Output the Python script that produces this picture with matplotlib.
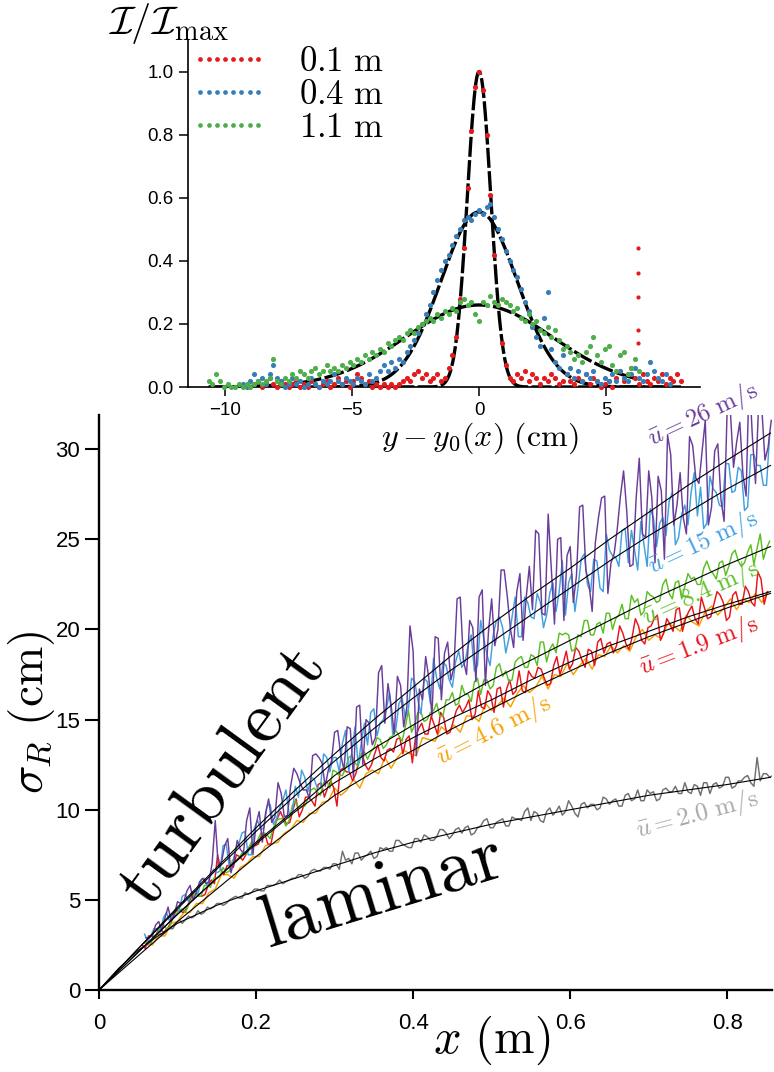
import numpy as np
import matplotlib
matplotlib.use("Agg")
import matplotlib.pyplot as plt
from matplotlib.lines import Line2D

plt.rcParams['mathtext.fontset'] = 'cm'
plt.rcParams['font.family'] = ['Liberation Sans', 'DejaVu Sans']

# ---------------- main panel: spreading width sigma_R versus x ----------------
# smooth model curves, sampled on a common x grid (m)
fit_x = [0, 0.025, 0.05, 0.075, 0.1, 0.15, 0.2, 0.25, 0.3, 0.35, 0.4, 0.45,
         0.5, 0.55, 0.6, 0.65, 0.7, 0.75, 0.8, 0.855]
fit_26 = [0, 1.15, 2.3, 3.45, 4.6, 6.8, 9.0, 11.1, 13.1, 15.0, 16.8, 18.6,
          20.3, 21.9, 23.4, 25.0, 26.5, 28.0, 29.4, 30.9]
fit_15 = [0, 1.15, 2.3, 3.4, 4.5, 6.7, 8.8, 10.8, 12.7, 14.5, 16.2, 17.8,
          19.3, 20.8, 22.3, 23.8, 25.2, 26.5, 27.8, 29.1]
fit_84 = [0, 1.05, 2.1, 3.15, 4.2, 6.2, 8.2, 10.0, 11.9, 13.4, 14.7, 16.0,
          17.2, 18.3, 19.4, 20.5, 21.6, 22.6, 23.6, 24.6]
fit_19 = [0, 1.05, 2.1, 3.15, 4.2, 6.2, 8.1, 9.9, 11.5, 12.8, 14.0, 15.1,
          16.1, 17.2, 18.2, 19.1, 19.9, 20.7, 21.4, 22.1]
fit_46 = [0, 0.95, 1.9, 2.85, 3.8, 5.6, 7.4, 9.1, 10.8, 12.1, 13.3, 14.5,
          15.6, 16.7, 17.7, 18.7, 19.6, 20.4, 21.2, 22.0]
fit_20 = [0, 1.2, 2.2, 3.0, 3.7, 4.7, 5.5, 6.2, 6.9, 7.6, 8.2, 8.7,
          9.2, 9.6, 10.0, 10.4, 10.8, 11.1, 11.4, 11.8]

# measured sigma_R (cm), sampled every 8 mm starting at the given x (m);
# the *_mid lists hold the in-between samples (offset 4 mm)
sample_step = 0.008
sig_26_x0 = 0.060
sig_26 = [2.9, 3.0, 3.8, 4.0, 3.8, 4.9, 4.9, 5.8, 5.4, 6.2,
          6.0, 9.4, 7.1, 8.4, 7.2, 7.8, 9.4, 7.5, 9.9, 9.8,
          9.3, 11.5, 9.6, 11.3, 12.0, 11.1, 10.6, 13.1, 12.6, 12.2,
          14.3, 13.0, 14.6, 11.8, 15.8, 15.0, 13.6, 17.6, 14.8, 15.8,
          17.4, 14.6, 20.2, 13.0, 16.1, 17.3, 19.6, 16.1, 19.3, 17.9,
          21.8, 17.5, 20.1, 21.8, 16.9, 21.7, 20.0, 23.3, 20.0, 22.1,
          19.4, 23.5, 25.5, 20.9, 26.4, 20.3, 25.1, 24.1, 21.5, 26.8,
          23.3, 21.0, 26.2, 27.4, 23.7, 25.6, 28.8, 23.5, 27.3, 25.3,
          28.8, 23.7, 27.7, 30.8, 25.8, 28.7, 25.3, 30.2, 28.1, 31.6,
          26.8, 30.3, 26.0, 32.1, 30.4, 28.6, 34.2, 28.1, 32.3, 30.1]
sig_26_mid = [2.9, 3.6, 3.3, 4.6, 4.2, 4.8, 5.5, 5.0, 6.0, 5.9,
              7.0, 6.8, 8.0, 6.5, 8.3, 7.6, 10.1, 9.2, 8.2, 10.6,
              9.6, 10.9, 9.7, 12.3, 11.5, 11.1, 13.0, 12.9, 11.3, 12.7,
              14.4, 12.2, 14.5, 15.7, 12.5, 14.8, 14.0, 18.0, 17.0, 14.2,
              16.9, 15.7, 18.8, 16.7, 18.5, 15.2, 19.5, 18.7, 17.2, 21.7,
              18.3, 20.5, 17.1, 22.2, 19.9, 19.1, 23.3, 21.8, 19.0, 23.1,
              21.8, 21.1, 25.3, 20.8, 23.3, 25.0, 20.5, 24.6, 23.0, 26.9,
              22.5, 24.8, 27.3, 22.0, 24.2, 27.4, 26.6, 23.6, 29.5, 25.1,
              27.3, 28.5, 23.9, 29.7, 26.9, 26.2, 30.7, 28.4, 29.9, 25.8,
              29.9, 27.2, 32.4, 29.0, 31.5, 27.4, 30.7, 32.5, 29.4, 31.6]
sig_15_x0 = 0.058
sig_15 = [3.1, 3.0, 3.4, 4.0, 3.8, 4.5, 5.2, 4.9, 5.5, 6.1,
          5.8, 6.7, 6.6, 8.1, 7.0, 8.1, 8.8, 7.5, 9.4, 9.0,
          10.3, 9.5, 10.5, 9.8, 11.3, 12.2, 11.0, 11.7, 11.2, 12.9,
          12.9, 12.1, 14.4, 13.2, 12.5, 14.8, 15.4, 14.1, 15.0, 16.5,
          14.5, 16.2, 15.6, 17.1, 15.3, 17.1, 18.4, 16.7, 18.0, 16.8,
          18.8, 18.2, 19.7, 18.0, 19.5, 18.0, 20.5, 20.1, 19.5, 21.8,
          19.6, 21.5, 20.6, 21.5, 20.8, 22.6, 22.1, 20.8, 23.1, 22.3,
          24.2, 22.1, 23.8, 22.1, 24.4, 24.0, 25.5, 23.7, 24.4, 26.0,
          23.5, 26.2, 25.9, 25.2, 27.6, 25.1, 26.9, 27.6, 26.3, 25.6,
          28.5, 27.6, 26.8, 29.2, 27.7, 28.8, 26.8, 29.7, 29.1, 28.0]
sig_15_mid = [2.7, 3.4, 3.2, 4.3, 4.2, 4.4, 5.3, 5.4, 5.3, 6.2,
              6.4, 6.5, 8.0, 6.8, 7.8, 8.7, 7.5, 9.0, 8.9, 10.2,
              9.2, 10.1, 11.1, 9.8, 10.7, 11.8, 11.8, 11.2, 13.1, 12.1,
              12.9, 13.7, 12.1, 14.6, 13.7, 13.6, 15.6, 14.8, 15.6, 14.2,
              15.9, 15.1, 17.3, 16.1, 17.3, 15.9, 17.3, 18.2, 17.2, 18.2,
              17.9, 19.1, 17.7, 20.5, 18.6, 19.7, 20.7, 18.7, 20.7, 19.6,
              21.8, 20.7, 22.0, 20.1, 22.0, 21.0, 23.8, 22.6, 21.0, 23.9,
              22.5, 23.9, 22.3, 25.3, 24.1, 23.5, 25.6, 25.5, 23.3, 24.7,
              26.7, 24.6, 26.2, 27.1, 24.7, 26.4, 25.8, 28.7, 27.9, 25.9,
              27.8, 26.9, 29.2, 27.6, 29.0, 26.6, 29.7, 29.1, 28.0, 30.8]
sig_84_x0 = 0.058
sig_84 = [2.6, 2.7, 3.1, 3.6, 3.5, 4.2, 4.5, 4.7, 5.4, 5.2,
          5.8, 6.2, 6.3, 6.5, 7.2, 7.3, 7.5, 8.2, 8.3, 8.7,
          8.4, 9.4, 9.5, 9.4, 10.5, 10.2, 10.6, 11.2, 10.8, 11.6,
          12.2, 11.9, 12.3, 13.0, 12.4, 13.2, 13.2, 14.0, 13.4, 14.0,
          14.4, 13.8, 15.5, 14.7, 15.4, 15.0, 15.5, 15.2, 16.1, 16.5,
          15.9, 16.4, 16.0, 17.3, 17.2, 16.7, 17.9, 17.4, 17.1, 18.2,
          18.5, 17.9, 18.5, 19.3, 18.2, 19.2, 19.8, 19.8, 18.8, 19.7,
          20.5, 19.7, 20.3, 19.8, 20.9, 20.6, 21.4, 20.6, 21.5, 20.8,
          22.1, 21.8, 21.6, 22.8, 21.7, 22.7, 22.4, 22.8, 22.5, 23.4,
          23.3, 22.8, 23.8, 23.5, 24.4, 23.5, 24.3, 23.6, 25.3, 24.5]
sig_84_mid = [2.6, 2.9, 3.5, 3.4, 4.0, 4.4, 4.3, 5.0, 5.2, 5.8,
              5.7, 6.2, 6.8, 6.6, 7.1, 7.6, 7.8, 8.0, 8.7, 8.6,
              9.0, 9.5, 9.1, 10.2, 10.1, 10.2, 11.1, 11.0, 11.5, 11.2,
              12.1, 11.9, 12.9, 12.6, 13.1, 12.8, 13.4, 13.9, 13.6, 14.1,
              14.1, 14.6, 14.3, 15.4, 14.9, 15.4, 15.9, 15.2, 16.1, 15.8,
              16.9, 16.4, 17.1, 16.4, 17.2, 16.9, 18.1, 17.7, 17.2, 18.4,
              17.9, 18.6, 18.0, 19.3, 18.9, 18.7, 19.7, 19.7, 18.9, 19.6,
              20.5, 19.7, 20.4, 20.9, 20.0, 20.8, 20.6, 21.9, 21.7, 21.0,
              21.9, 21.5, 22.5, 22.0, 22.6, 21.7, 23.1, 22.9, 22.5, 23.8,
              23.1, 23.7, 23.0, 24.2, 23.8, 23.7, 24.7, 24.5, 23.9, 24.9]
sig_19_x0 = 0.055
sig_19 = [2.5, 3.0, 2.9, 3.3, 3.4, 4.2, 4.4, 4.5, 5.3, 5.2,
          5.3, 6.1, 7.5, 6.4, 6.9, 7.5, 7.2, 7.9, 8.0, 8.6,
          8.1, 9.0, 9.9, 9.2, 10.0, 9.6, 10.7, 10.5, 11.4, 10.7,
          11.6, 10.2, 12.3, 12.1, 12.0, 13.1, 12.2, 13.1, 12.9, 13.3,
          13.2, 14.0, 13.9, 12.6, 14.5, 14.2, 15.2, 14.2, 15.1, 14.3,
          15.5, 15.4, 16.1, 15.3, 15.7, 16.6, 15.4, 16.8, 16.7, 16.4,
          17.7, 16.5, 17.4, 17.9, 17.3, 17.0, 18.5, 18.1, 17.8, 19.0,
          18.3, 18.9, 18.0, 19.5, 19.2, 18.7, 20.2, 19.2, 19.6, 20.2,
          19.2, 20.2, 20.8, 19.8, 20.3, 21.1, 19.9, 21.0, 20.6, 21.8,
          20.6, 21.4, 21.9, 20.5, 21.9, 21.4, 22.4, 21.5, 23.2, 21.4]
sig_19_mid = [2.3, 3.0, 3.3, 3.2, 3.7, 4.4, 4.3, 4.9, 5.4, 5.2,
              5.8, 5.9, 6.7, 6.9, 6.8, 7.4, 7.5, 8.2, 8.1, 8.7,
              8.1, 9.5, 9.5, 9.3, 10.6, 10.0, 10.7, 10.2, 11.5, 11.2,
              11.2, 12.2, 12.1, 11.6, 12.7, 12.5, 12.5, 13.6, 12.7, 13.4,
              13.9, 13.1, 14.1, 14.0, 14.8, 14.2, 14.7, 15.4, 14.2, 14.9,
              15.8, 15.7, 15.0, 16.6, 15.6, 16.3, 16.7, 15.7, 17.2, 16.6,
              16.6, 17.7, 17.3, 17.8, 16.9, 18.0, 17.5, 18.8, 18.1, 18.8,
              17.9, 18.8, 19.3, 18.7, 19.3, 19.1, 19.8, 18.9, 20.6, 19.4,
              20.1, 20.6, 19.4, 20.6, 19.9, 21.2, 20.6, 21.3, 20.3, 21.2,
              20.7, 22.1, 21.5, 20.7, 22.1, 21.4, 22.1, 21.3, 22.8, 22.1]
sig_46_x0 = 0.060
sig_46 = [2.6, 2.5, 3.0, 3.0, 3.7, 3.8, 4.3, 4.3, 4.8, 4.8,
          5.4, 5.6, 6.4, 6.4, 6.2, 6.8, 7.0, 7.4, 7.4, 8.0,
          8.1, 8.2, 8.7, 8.9, 9.4, 9.3, 9.8, 9.8, 10.4, 10.5,
          11.2, 10.8, 11.1, 11.7, 11.2, 12.0, 12.2, 12.0, 12.9, 12.3,
          12.9, 13.3, 13.1, 13.0, 14.0, 13.9, 13.8, 14.6, 14.3, 14.7,
          14.3, 15.2, 15.2, 14.9, 15.9, 15.5, 15.8, 16.2, 15.7, 16.4,
          16.9, 16.5, 16.8, 17.4, 16.7, 17.5, 17.4, 18.1, 17.5, 18.0,
          18.4, 17.8, 18.6, 18.5, 19.1, 18.7, 19.1, 18.8, 19.6, 20.0,
          19.4, 19.7, 19.5, 20.3, 20.2, 19.9, 20.8, 20.4, 20.2, 21.0,
          21.3, 20.8, 21.2, 21.7, 21.1, 21.7, 21.5, 22.0, 21.5, 22.1]
sig_20_x0 = 0.062
sig_20 = [2.5, 3.0, 3.1, 3.4, 3.4, 3.9, 3.9, 4.0, 4.4, 4.3,
          4.5, 4.8, 4.7, 5.0, 5.2, 5.1, 5.3, 5.6, 5.5, 5.8,
          5.8, 6.1, 6.0, 6.2, 6.4, 6.2, 6.6, 6.6, 6.8, 6.7,
          7.0, 7.7, 7.3, 7.6, 7.2, 7.5, 7.3, 7.9, 7.9, 7.7,
          8.3, 8.0, 7.9, 8.4, 8.6, 8.3, 8.5, 8.9, 8.4, 8.9,
          8.7, 9.1, 8.7, 9.1, 9.5, 9.0, 9.4, 9.1, 9.6, 9.5,
          9.9, 9.4, 9.8, 9.3, 10.1, 9.9, 9.7, 10.5, 9.8, 10.3,
          10.1, 10.3, 10.1, 10.6, 10.5, 10.2, 10.8, 10.5, 11.1, 10.5,
          10.9, 10.5, 11.1, 11.0, 11.3, 10.9, 11.0, 11.4, 10.8, 11.5,
          11.4, 11.2, 11.8, 11.2, 11.6, 11.8, 11.5, 12.9, 12.0, 11.8]
sig_20_mid = [2.6, 3.1, 3.1, 3.4, 3.7, 3.7, 4.1, 4.1, 4.2, 4.6,
              4.6, 4.8, 4.8, 5.1, 5.1, 5.4, 5.4, 5.6, 5.5, 5.8,
              5.9, 5.9, 6.1, 6.2, 6.4, 6.3, 6.7, 6.6, 6.8, 7.0,
              6.7, 7.2, 7.0, 7.6, 7.4, 7.7, 7.4, 7.8, 7.7, 8.3,
              8.1, 7.9, 8.4, 8.2, 8.5, 8.3, 8.9, 8.7, 8.6, 9.0,
              9.0, 8.6, 9.0, 9.4, 9.0, 9.3, 9.5, 9.1, 9.5, 9.4,
              10.1, 9.9, 9.4, 9.9, 9.7, 10.2, 9.9, 10.2, 9.6, 10.4,
              10.3, 10.0, 10.7, 10.3, 10.6, 10.2, 10.9, 10.6, 10.5, 11.1,
              11.0, 10.6, 11.2, 11.0, 10.9, 11.5, 10.9, 11.3, 11.5, 10.9,
              11.5, 11.3, 11.8, 11.3, 11.6, 11.9, 11.3, 11.6, 12.0, 11.9]

# ---------------- inset: transverse intensity profiles ----------------
prof_step = 0.15
prof_01_y0 = -8.85
prof_01 = [0.01, 0.02, 0.00, 0.01, 0.03, 0.01, 0.00, 0.02, 0.01, 0.00,
           0.01, 0.02, 0.00, 0.01, 0.00, 0.02, 0.01, 0.00, 0.01, 0.02,
           0.00, 0.01, 0.03, 0.01, 0.02, 0.00, 0.02, 0.04, 0.03, 0.01,
           0.02, 0.00, 0.01, 0.00, 0.01, 0.00, 0.01, 0.00, 0.01, 0.02,
           0.03, 0.02, 0.04, 0.05, 0.03, 0.04, 0.02, 0.03, 0.04, 0.02,
           0.03, 0.06, 0.10, 0.16, 0.28, 0.44, 0.63, 0.81, 0.95, 1.00,
           0.94, 0.80, 0.61, 0.42, 0.26, 0.14, 0.07, 0.03, 0.02, 0.04,
           0.03, 0.05, 0.02, 0.04, 0.03, 0.01, 0.03, 0.02, 0.04, 0.03,
           0.01, 0.02, 0.04, 0.02, 0.01, 0.03, 0.02, 0.04, 0.01, 0.03,
           0.02, 0.00, 0.01, 0.02, 0.00, 0.03, 0.05, 0.02, 0.04, 0.06,
           0.03, 0.01, 0.04, 0.02, 0.01, 0.03, 0.02, 0.04, 0.01, 0.03,
           0.02, 0.04, 0.02]
prof_01_col_y = 6.25
prof_01_col = [0.44, 0.36, 0.285, 0.18, 0.14]
prof_04_y0 = -9.30
prof_04 = [0.01, 0.00, 0.02, 0.04, 0.02, 0.03, 0.01, 0.04, 0.07, 0.03,
           0.02, 0.00, 0.01, 0.03, 0.01, 0.02, 0.00, 0.01, 0.03, 0.01,
           0.00, 0.02, 0.01, 0.02, 0.04, 0.02, 0.01, 0.03, 0.02, 0.01,
           0.03, 0.02, 0.01, 0.04, 0.02, 0.03, 0.05, 0.07, 0.05, 0.08,
           0.06, 0.09, 0.08, 0.11, 0.13, 0.15, 0.17, 0.20, 0.23, 0.26,
           0.30, 0.34, 0.37, 0.40, 0.42, 0.45, 0.48, 0.50, 0.53, 0.54,
           0.53, 0.55, 0.56, 0.55, 0.57, 0.58, 0.54, 0.50, 0.47, 0.43,
           0.40, 0.37, 0.35, 0.31, 0.27, 0.24, 0.19, 0.16, 0.13, 0.22,
           0.30, 0.12, 0.08, 0.06, 0.10, 0.04, 0.06, 0.03, 0.05, 0.02,
           0.04, 0.03, 0.05, 0.02, 0.01, 0.03, 0.02, 0.04, 0.02, 0.05,
           0.03, 0.02, 0.04, 0.06, 0.03, 0.02, 0.04, 0.08, 0.05, 0.03,
           0.02, 0.04, 0.01]
prof_11_y0 = -10.65
prof_11 = [0.02, 0.01, 0.04, 0.02, 0.00, 0.01, 0.00, 0.00, 0.01, 0.00,
           0.01, 0.00, 0.01, 0.02, 0.01, 0.02, 0.03, 0.09, 0.02, 0.01,
           0.03, 0.02, 0.04, 0.03, 0.05, 0.04, 0.03, 0.05, 0.06, 0.04,
           0.05, 0.07, 0.05, 0.06, 0.05, 0.07, 0.06, 0.08, 0.07, 0.09,
           0.08, 0.10, 0.09, 0.11, 0.10, 0.12, 0.11, 0.14, 0.13, 0.15,
           0.16, 0.15, 0.17, 0.18, 0.17, 0.19, 0.20, 0.21, 0.22, 0.21,
           0.23, 0.22, 0.24, 0.23, 0.25, 0.24, 0.27, 0.28, 0.26, 0.27,
           0.23, 0.21, 0.27, 0.26, 0.29, 0.27, 0.26, 0.28, 0.27, 0.26,
           0.24, 0.25, 0.22, 0.21, 0.23, 0.20, 0.21, 0.18, 0.17, 0.19,
           0.16, 0.18, 0.15, 0.12, 0.13, 0.11, 0.09, 0.10, 0.08, 0.11,
           0.13, 0.16, 0.10, 0.08, 0.12, 0.13, 0.07, 0.05, 0.10, 0.11,
           0.04, 0.06, 0.09, 0.05]
# Gaussian fit parameters: amplitude, width (cm)
gauss_01 = (1.00, 0.46)
gauss_04 = (0.555, 1.50)
gauss_11 = (0.26, 2.90)
profile_labels = [r'$0.1\ \mathrm{m}$', r'$0.4\ \mathrm{m}$', r'$1.1\ \mathrm{m}$']

# ---------------- drawing ----------------
C_26, C_15, C_84 = '#6a3d9a', '#40a0e0', '#5cbf24'
C_19, C_46, C_20 = '#e8131b', '#f7a100', '#707070'


def sample_positions(x0, vals):
    return x0 + sample_step * np.arange(len(vals))


def merged(x0, vals, mids):
    xs = np.column_stack([sample_positions(x0, vals),
                          sample_positions(x0 + sample_step / 2, mids)]).ravel()
    ys = np.column_stack([vals, mids]).ravel()
    return xs, ys


fig = plt.figure(figsize=(7.74, 10.72), dpi=100)
ax = fig.add_axes([99 / 774, 1 - 990 / 1072, 673 / 774, 575 / 1072])

series = [(*merged(sig_20_x0, sig_20, sig_20_mid), C_20),
          (sample_positions(sig_46_x0, sig_46), sig_46, C_46),
          (*merged(sig_19_x0, sig_19, sig_19_mid), C_19),
          (*merged(sig_84_x0, sig_84, sig_84_mid), C_84),
          (*merged(sig_15_x0, sig_15, sig_15_mid), C_15),
          (*merged(sig_26_x0, sig_26, sig_26_mid), C_26)]
for xs, ys, col in series:
    ax.plot(xs, ys, color=col, lw=1.05, zorder=2)
for fv in [fit_20, fit_46, fit_19, fit_84, fit_15, fit_26]:
    ax.plot(fit_x, fv, color='black', lw=0.8, zorder=3)

ax.set_xlim(0, 0.857)
ax.set_ylim(0, 31.9)
for s in ['top', 'right']:
    ax.spines[s].set_visible(False)
for s in ['left', 'bottom']:
    ax.spines[s].set_linewidth(1.7)
ax.set_xticks([0, 0.2, 0.4, 0.6, 0.8])
ax.set_xticklabels(['0', '0.2', '0.4', '0.6', '0.8'])
ax.set_yticks([0, 5, 10, 15, 20, 25, 30])
ax.tick_params(axis='y', length=10, width=1.5, pad=3.5, labelsize=16)
ax.tick_params(axis='x', length=6.5, width=1.5, pad=10, labelsize=16)

ax.text(0.584, -0.087, r'$x\ (\mathrm{m})$', transform=ax.transAxes,
        fontsize=35, ha='center', va='center')
ax.text(-0.1, 0.482, r'$\sigma_R\ (\mathrm{cm})$', transform=ax.transAxes,
        fontsize=34, ha='center', va='center', rotation=90)

ax.text(0.157, 11.8, r'$\mathrm{turbulent}$', fontsize=53, rotation=54,
        ha='center', va='center', rotation_mode='anchor', zorder=5)
ax.text(0.36, 5.4, r'$\mathrm{laminar}$', fontsize=54, rotation=17,
        ha='center', va='center', rotation_mode='anchor', zorder=5)

speed_labels = [
    (0.769, 31.9, 25, r'$\bar{u} = 26\ \mathrm{m/s}$', C_26),
    (0.769, 24.8, 25, r'$\bar{u} = 15\ \mathrm{m/s}$', C_15),
    (0.766, 22.0, 24, r'$\bar{u} = 8.4\ \mathrm{m/s}$', C_84),
    (0.763, 19.1, 21, r'$\bar{u} = 1.9\ \mathrm{m/s}$', C_19),
    (0.502, 14.4, 27, r'$\bar{u} = 4.6\ \mathrm{m/s}$', C_46),
    (0.762, 9.7, 15, r'$\bar{u} = 2.0\ \mathrm{m/s}$', '#a8a8a8'),
]
for xl, yl, rot, txt, col in speed_labels:
    ax.text(xl, yl, txt, fontsize=18, color=col, rotation=rot,
            ha='center', va='center', rotation_mode='anchor',
            clip_on=False, zorder=6)

# inset
axi = fig.add_axes([188 / 774, 1 - 387 / 1072, 512 / 774, 347 / 1072])
axi.patch.set_alpha(0)
P_RED, P_BLUE, P_GREEN = '#e41a1c', '#377eb8', '#4daf4a'
profiles = [(prof_01_y0, prof_01, gauss_01, P_RED),
            (prof_04_y0, prof_04, gauss_04, P_BLUE),
            (prof_11_y0, prof_11, gauss_11, P_GREEN)]
for y0, vals, (amp, wid), col in profiles:
    ys = y0 + prof_step * np.arange(len(vals))
    yy = np.linspace(ys[0], ys[-1], 500)
    axi.plot(yy, amp * np.exp(-yy ** 2 / (2 * wid ** 2)), color='black',
             lw=2.4, ls=(0, (6, 1)), zorder=2)
for y0, vals, _, col in profiles:
    ys = y0 + prof_step * np.arange(len(vals))
    axi.plot(ys, vals, ls='none', marker='o', ms=3.7, mew=0, color=col,
             zorder=3, clip_on=False)
axi.plot([prof_01_col_y] * len(prof_01_col), prof_01_col, ls='none',
         marker='o', ms=3.0, mew=0, color=P_RED, zorder=3)

axi.set_xlim(-11.46, 8.7)
axi.set_ylim(0, 1.10)
for s in ['top', 'right']:
    axi.spines[s].set_visible(False)
for s in ['left', 'bottom']:
    axi.spines[s].set_linewidth(1.2)
axi.set_xticks([-10, -5, 0, 5])
axi.set_yticks([0, 0.2, 0.4, 0.6, 0.8, 1.0])
axi.tick_params(length=6.5, width=1.1, pad=4, labelsize=13.5)

fig.text(108 / 774, 1 - 24 / 1072, r'$\mathcal{I}/\mathcal{I}_{\max}$',
         fontsize=29, ha='left', va='center')
fig.text(480 / 774, 1 - 438 / 1072, r'$y - y_0(x)\ (\mathrm{cm})$',
         fontsize=23, ha='center', va='center')

handles = [Line2D([], [], ls='none', marker='o', ms=3.4, mew=0, color=c)
           for c in (P_RED, P_BLUE, P_GREEN)]
fig.legend(handles, profile_labels, loc='upper left',
           bbox_to_anchor=(190 / 774, 1 - 45 / 1072), frameon=False,
           numpoints=8, prop={'size': 25}, handlelength=2.25,
           handletextpad=0.9, labelspacing=0.0, borderpad=0,
           borderaxespad=0)

fig.savefig('out.png', dpi=100)
